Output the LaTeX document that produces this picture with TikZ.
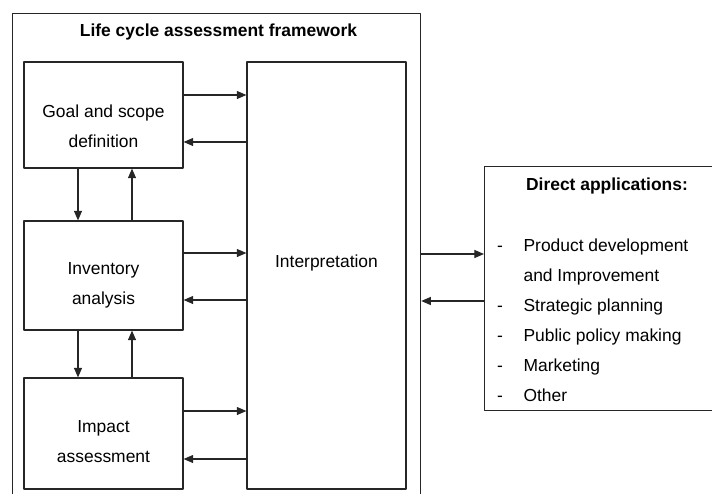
\documentclass[tikz,border=0pt]{standalone}
\usepackage{fontspec}
\setmainfont{Liberation Sans}
\usetikzlibrary{arrows.meta}
\tikzset{
  box/.style={draw=black!85, line width=0.8pt, minimum width=3.975cm, inner sep=0pt},
  head/.style={anchor=base, font=\fontsize{12.4}{15}\selectfont\bfseries},
}
\begin{document}
\begin{tikzpicture}[x=0.025cm, y=-0.025cm, line join=round, line width=0.8pt, >={Triangle[length=0.24cm,width=0.2cm]}, font=\fontsize{12.4}{15}\selectfont]
\useasboundingbox (0,0) rectangle (712,494);
\clip (0,0) rectangle (712,494);
% frame and boxes
\node[box, minimum width=10.2cm, minimum height=12.8cm, anchor=north west] (lca) at (12,13) {};
\node[box, minimum height=2.65cm] (goal) at (103.5,115) {};
\node[box, minimum height=2.725cm] (inv) at (103.5,275.5) {};
\node[box, minimum height=2.775cm] (imp) at (103.5,433.5) {};
\node[box, minimum height=10.675cm] (int) at (326.5,275.5) {};
\node[box, minimum width=6.5cm, minimum height=6.1cm, anchor=north west] (app) at (484,166) {};
% texts
\node[head] (title) at (218.5,36) {Life cycle assessment framework};
\foreach \n/\x/\y/\t in {g1/103.5/117/Goal and scope, g2/103.5/147/definition, v1/103.5/274/Inventory, v2/103.5/304/analysis, m1/103.5/432/Impact, m2/103.5/462/assessment, ip/326.5/267/Interpretation}
  \node[anchor=base] (\n) at (\x,\y) {\t};
\node[head] (apt) at (607,190) {Direct applications:};
\foreach \n/\y/\t in {a1/251/Product development, a2/281/and Improvement, a3/311/Strategic planning, a4/341/Public policy making, a5/371/Marketing, a6/401/Other}
  \node[anchor=base west, inner xsep=0pt] (\n) at (523,\y) {\t};
\foreach \n/\y in {d1/251, d3/311, d4/341, d5/371, d6/401}
  \node[anchor=base] (\n) at (500,\y) {-};
% arrows
\foreach \a/\y in {goal/95, inv/253, imp/411} \draw[->, black!85] (\a.east |- 0,\y) -- (int.west |- 0,\y);
\foreach \a/\y in {goal/142, inv/300, imp/459} \draw[<-, black!85] (\a.east |- 0,\y) -- (int.west |- 0,\y);
\foreach \a/\b in {goal/inv, inv/imp} {
  \draw[->, black!85] (\a.south -| 78,0) -- (\b.north -| 78,0);
  \draw[<-, black!85] (\a.south -| 132,0) -- (\b.north -| 132,0);
}
\draw[->, black!85] (lca.east |- 0,254) -- (app.west |- 0,254);
\draw[<-, black!85] (lca.east |- 0,301) -- (app.west |- 0,301);
\end{tikzpicture}
\end{document}
